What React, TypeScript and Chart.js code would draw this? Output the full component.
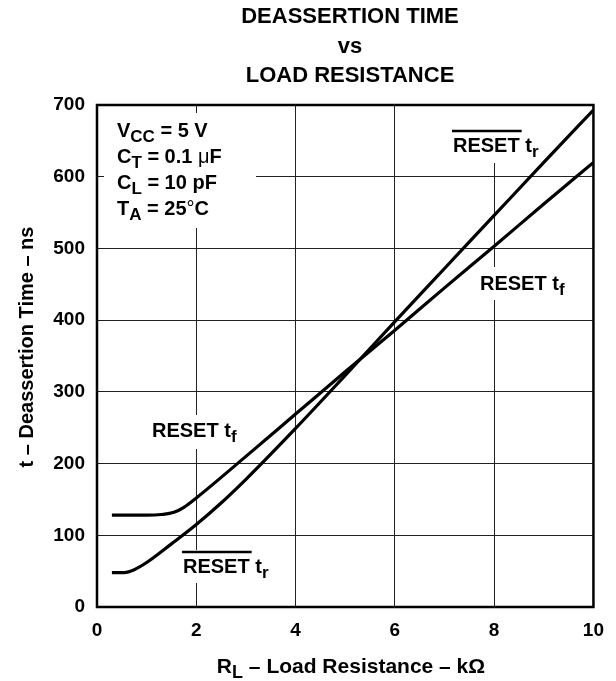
import React, { useEffect, useRef } from "react";
import { Chart, registerables } from "chart.js";

Chart.register(...registerables);

const xTicks = [0, 2, 4, 6, 8, 10];
const yTicks = [0, 100, 200, 300, 400, 500, 600, 700];

// RESET t_f (upper curve at low R_L)
const tfX = [0.3, 1.0, 1.3, 1.55, 1.75, 2, 3, 4, 5, 6, 7, 8, 9, 10];
const tfY = [128, 128, 129, 132, 139, 152, 210, 269, 328, 386, 445, 503, 562, 620];

// RESET-bar t_r (lower curve at low R_L)
const trX = [0.3, 0.55, 0.75, 1, 1.5, 2, 2.5, 3, 4, 5, 6, 7, 8, 9, 10];
const trY = [48, 48, 52, 62, 88, 115, 145, 178, 249, 323, 398, 472, 546, 620, 693];

const titleLines = ["DEASSERTION TIME", "vs", "LOAD RESISTANCE"];
const FONT = "'Liberation Sans', Arial, sans-serif";

type Seg = { t: string; sub?: boolean; normal?: boolean; size?: number };

function drawRich(ctx: CanvasRenderingContext2D, x: number, y: number, segs: Seg[], size: number) {
  let cx = x;
  for (const s of segs) {
    const sz = s.sub ? size - 3 : s.size || size;
    ctx.font = `${s.normal ? "normal" : "bold"} ${sz}px ${FONT}`;
    ctx.fillText(s.t, cx, y + (s.sub ? 5 : 0));
    cx += ctx.measureText(s.t).width;
  }
  return cx;
}

function richWidth(ctx: CanvasRenderingContext2D, segs: Seg[], size: number) {
  let w = 0;
  for (const s of segs) {
    const sz = s.sub ? size - 3 : s.size || size;
    ctx.font = `${s.normal ? "normal" : "bold"} ${sz}px ${FONT}`;
    w += ctx.measureText(s.t).width;
  }
  return w;
}

const whiteBoxes = [
  [104, 113, 256, 228],
  [448, 106, 548, 163],
  [476, 267, 572, 300],
  [148, 415, 250, 449],
  [178, 550, 272, 583],
];

const decorPlugin = {
  id: "decor",
  beforeDatasetsDraw(chart: any) {
    const ctx = chart.ctx as CanvasRenderingContext2D;
    ctx.save();
    ctx.fillStyle = "#ffffff";
    for (const [x1, y1, x2, y2] of whiteBoxes) ctx.fillRect(x1, y1, x2 - x1, y2 - y1);
    ctx.restore();
  },
  afterDatasetsDraw(chart: any) {
    const ctx = chart.ctx as CanvasRenderingContext2D;
    const a = chart.chartArea;
    ctx.save();
    // frame
    ctx.strokeStyle = "#000";
    ctx.lineWidth = 2.5;
    ctx.strokeRect(a.left, a.top, a.right - a.left, a.bottom - a.top);

    ctx.fillStyle = "#000";
    ctx.textBaseline = "alphabetic";
    ctx.textAlign = "left";

    // title
    ctx.font = `bold 22px ${FONT}`;
    ctx.textAlign = "center";
    const tb = [23, 53, 82];
    titleLines.forEach((l, i) => ctx.fillText(l, 350, tb[i]));
    ctx.textAlign = "left";

    // x axis title
    const xSegs: Seg[] = [{ t: "R" }, { t: "L", sub: true }, { t: " \u2013 Load Resistance \u2013 k\u03A9" }];
    const xw = richWidth(ctx, xSegs, 21);
    drawRich(ctx, 351 - xw / 2, 673, xSegs, 21);

    // y axis title
    ctx.save();
    ctx.translate(33, 347);
    ctx.rotate(-Math.PI / 2);
    ctx.font = `bold 20px ${FONT}`;
    ctx.textAlign = "center";
    ctx.fillText("t \u2013 Deassertion Time \u2013 ns", 0, 0);
    ctx.restore();
    ctx.textAlign = "left";

    // conditions
    const cond: Seg[][] = [
      [{ t: "V" }, { t: "CC", sub: true }, { t: " = 5 V" }],
      [{ t: "C" }, { t: "T", sub: true }, { t: " = 0.1 " }, { t: "\u03BC", normal: true }, { t: "F" }],
      [{ t: "C" }, { t: "L", sub: true }, { t: " = 10 pF" }],
      [{ t: "T" }, { t: "A", sub: true }, { t: " = 25" }, { t: "\u00B0", normal: true }, { t: "C" }],
    ];
    const cb = [137, 163, 189, 215];
    cond.forEach((segs, i) => drawRich(ctx, 117, cb[i], segs, 20));

    // curve labels
    const labels: { x: number; y: number; sub: string; bar: boolean }[] = [
      { x: 453, y: 152, sub: "r", bar: true },
      { x: 480, y: 290, sub: "f", bar: false },
      { x: 152, y: 437, sub: "f", bar: false },
      { x: 183, y: 573, sub: "r", bar: true },
    ];
    for (const L of labels) {
      ctx.font = `bold 20px ${FONT}`;
      const rw = ctx.measureText("RESET").width;
      drawRich(ctx, L.x, L.y, [{ t: "RESET t" }, { t: L.sub, sub: true }], 20);
      if (L.bar) {
        ctx.lineWidth = 2.5;
        ctx.beginPath();
        ctx.moveTo(L.x - 1, L.y - 21);
        ctx.lineTo(L.x + rw + 2, L.y - 21);
        ctx.stroke();
      }
    }
    ctx.restore();
  },
};

export default function App() {
  const ref = useRef<HTMLCanvasElement | null>(null);
  useEffect(() => {
    if (!ref.current) return;
    const chart = new Chart(ref.current, {
      type: "line",
      data: {
        datasets: [
          {
            label: "RESET tf",
            data: tfX.map((x, i) => ({ x, y: tfY[i] })),
            borderColor: "#000",
            borderWidth: 3.2,
            pointRadius: 0,
            cubicInterpolationMode: "monotone",
            fill: false,
          },
          {
            label: "RESET tr",
            data: trX.map((x, i) => ({ x, y: trY[i] })),
            borderColor: "#000",
            borderWidth: 3.2,
            pointRadius: 0,
            cubicInterpolationMode: "monotone",
            fill: false,
          },
        ],
      },
      options: {
        animation: false,
        responsive: false,
        events: [],
        layout: { padding: { top: 105, right: 16, left: 0, bottom: 0 } },
        plugins: { legend: { display: false }, tooltip: { enabled: false }, title: { display: false } },
        scales: {
          x: {
            type: "linear",
            min: 0,
            max: 10,
            afterFit: (s: any) => {
              s.height = 74;
            },
            afterBuildTicks: (s: any) => {
              s.ticks = xTicks.map((v) => ({ value: v }));
            },
            ticks: {
              color: "#000",
              font: { family: FONT, weight: "bold", size: 19 },
              padding: 12,
              maxRotation: 0,
              autoSkip: false,
            },
            grid: { color: "#222", lineWidth: 1, drawTicks: false },
            border: { display: false },
          },
          y: {
            type: "linear",
            min: 0,
            max: 700,
            afterFit: (s: any) => {
              s.width = 97;
            },
            afterBuildTicks: (s: any) => {
              s.ticks = yTicks.map((v) => ({ value: v }));
            },
            ticks: {
              color: "#000",
              font: { family: FONT, weight: "bold", size: 19 },
              padding: 12,
              autoSkip: false,
            },
            grid: { color: "#222", lineWidth: 1, drawTicks: false },
            border: { display: false },
          },
        },
      },
      plugins: [decorPlugin],
    } as any);
    return () => chart.destroy();
  }, []);
  return (
    <canvas
      ref={ref}
      width={616}
      height={681}
      style={{ position: "absolute", left: 0, top: 0, width: 616, height: 681 }}
    />
  );
}
